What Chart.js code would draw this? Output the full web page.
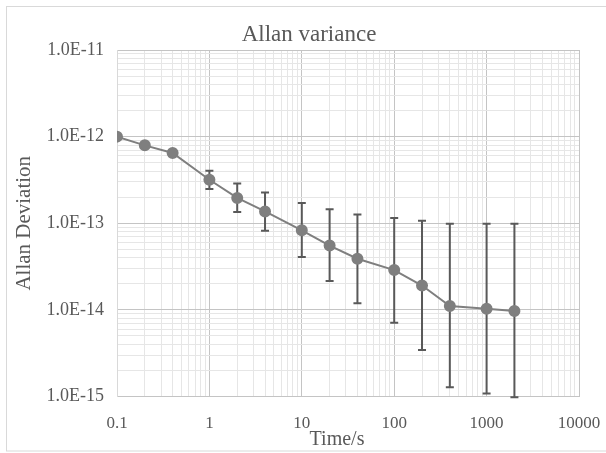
<!DOCTYPE html>
<html>
<head>
<meta charset="utf-8">
<title>Allan variance</title>
<script src="https://cdn.jsdelivr.net/npm/chart.js@4.4.1/dist/chart.umd.min.js"></script>
<style>
  body { margin: 0; background: #fff; }
  canvas { display: block; }
</style>
</head>
<body>
<canvas id="allanChart" width="606" height="453"></canvas>
<script>
// averaging time (s)
const tau = [0.1, 0.2, 0.4, 1, 2, 4, 10, 20, 40, 100, 200, 400, 1000, 2000];
// allan deviation
const adev = [1.0e-12, 7.93e-13, 6.48e-13, 3.18e-13, 1.96e-13, 1.37e-13, 8.3e-14,
  5.53e-14, 3.89e-14, 2.88e-14, 1.91e-14, 1.11e-14, 1.03e-14, 9.7e-15];
// error bar ends
const errLow = [1.0e-12, 7.5e-13, 6.0e-13, 2.48e-13, 1.35e-13, 8.2e-14, 4.07e-14,
  2.16e-14, 1.19e-14, 7.1e-15, 3.45e-15, 1.28e-15, 1.08e-15, 9.8e-16];
const errHigh = [1.0e-12, 8.4e-13, 7.0e-13, 4.05e-13, 2.88e-13, 2.27e-13, 1.71e-13,
  1.45e-13, 1.26e-13, 1.15e-13, 1.07e-13, 9.9e-14, 9.9e-14, 9.9e-14];

const xTickLabels = ['0.1', '1', '10', '100', '1000', '10000'];
const yTickLabels = ['1.0E-15', '1.0E-14', '1.0E-13', '1.0E-12', '1.0E-11'];

const textColor = '#595959';
const serif = '"Liberation Serif", "Times New Roman", serif';

function decade(v) {
  const e = Math.log10(v);
  return Math.abs(e - Math.round(e)) < 1e-6 ? Math.round(e) : null;
}

// keep 1..9 x 10^n ticks only (drop the 1.5 ones chart.js adds)
function keepWholeTicks(scale) {
  scale.ticks = scale.ticks.filter(t => {
    const m = t.value / Math.pow(10, Math.floor(Math.log10(t.value) + 1e-9));
    return Math.abs(m - Math.round(m)) < 1e-6;
  });
}

function gridColor(ctx) {
  return decade(ctx.tick.value) !== null ? '#c4c4c4' : '#e6e6e6';
}

const errorBars = {
  id: 'errorBars',
  beforeDatasetsDraw(chart) {
    const {ctx, scales: {x, y}} = chart;
    ctx.save();
    ctx.strokeStyle = '#595959';
    ctx.lineWidth = 2;
    for (let i = 0; i < tau.length; i++) {
      if (errLow[i] === errHigh[i]) continue;
      const px = x.getPixelForValue(tau[i]);
      const top = y.getPixelForValue(errHigh[i]);
      const bot = y.getPixelForValue(errLow[i]);
      ctx.beginPath();
      ctx.moveTo(px, top); ctx.lineTo(px, bot);
      ctx.moveTo(px - 4, top); ctx.lineTo(px + 4, top);
      ctx.moveTo(px - 4, bot); ctx.lineTo(px + 4, bot);
      ctx.stroke();
    }
    ctx.restore();
  }
};

const frameAndTitles = {
  id: 'frameAndTitles',
  beforeDraw(chart) {
    const ctx = chart.ctx;
    ctx.save();
    ctx.strokeStyle = '#d9d9d9';
    ctx.lineWidth = 1;
    ctx.strokeRect(6.5, 6.5, 640, 444.5);
    ctx.restore();
  },
  afterDraw(chart) {
    const ctx = chart.ctx;
    ctx.save();
    ctx.fillStyle = textColor;
    ctx.textAlign = 'center';
    ctx.textBaseline = 'middle';
    ctx.font = '23px ' + serif;
    ctx.fillText('Allan variance', 309, 34.5);
    ctx.font = '20px ' + serif;
    ctx.fillText('Time/s', 337, 440);
    ctx.restore();
  }
};

new Chart(document.getElementById('allanChart'), {
  type: 'line',
  data: {
    datasets: [{
      label: 'Allan Deviation',
      data: tau.map((t, i) => ({x: t, y: adev[i]})),
      borderColor: '#7f7f7f',
      backgroundColor: '#7f7f7f',
      borderWidth: 2,
      pointRadius: 5,
      pointBackgroundColor: '#7f7f7f',
      pointBorderColor: '#7f7f7f',
      tension: 0
    }]
  },
  options: {
    responsive: false,
    animation: false,
    layout: { padding: { top: 50, right: 27, bottom: 0, left: 0 } },
    plugins: {
      legend: { display: false },
      title: { display: false },
      tooltip: { enabled: false }
    },
    scales: {
      x: {
        type: 'logarithmic',
        min: 0.1,
        max: 10000,
        afterBuildTicks: keepWholeTicks,
        afterFit(scale) {
          scale.height = 56.5;
          scale.paddingLeft = 0;
          scale.paddingRight = 0;
        },
        grid: { color: gridColor, drawTicks: false },
        border: { color: '#c4c4c4' },
        ticks: {
          autoSkip: false,
          maxRotation: 0,
          padding: 17,
          color: textColor,
          font: { family: serif, size: 17 },
          callback(v) {
            const e = decade(v);
            return e === null ? '' : xTickLabels[e + 1];
          }
        }
      },
      y: {
        type: 'logarithmic',
        min: 1e-15,
        max: 1e-11,
        afterBuildTicks: keepWholeTicks,
        afterFit(scale) { scale.width = 117; },
        grid: { color: gridColor, drawTicks: false },
        border: { color: '#d9d9d9' },
        title: {
          display: true,
          text: 'Allan Deviation',
          color: textColor,
          font: { family: serif, size: 21 },
          padding: { top: 12, bottom: 0 }
        },
        ticks: {
          autoSkip: false,
          padding: 13,
          color: textColor,
          font: { family: serif, size: 18 },
          callback(v) {
            const e = decade(v);
            return e === null ? '' : yTickLabels[e + 15];
          }
        }
      }
    }
  },
  plugins: [errorBars, frameAndTitles]
});
</script>
</body>
</html>
